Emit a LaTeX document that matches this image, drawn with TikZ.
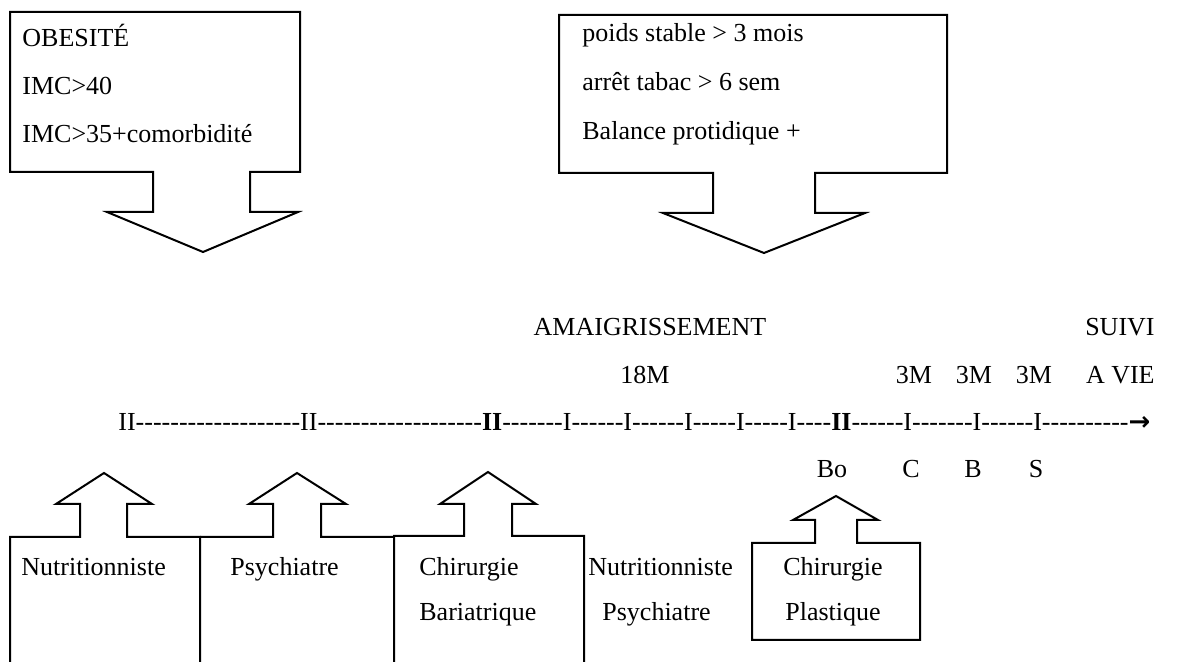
\documentclass[tikz,border=0pt]{standalone}
\usepackage{fontspec}
\setmainfont{Liberation Serif}
\newfontfamily\linefont{Liberation Serif}[Ligatures=ResetAll]
\newfontfamily\arrowfont{DejaVu Sans}
\usetikzlibrary{positioning}

\begin{document}
\begin{tikzpicture}[x=0.5pt,y=-0.5pt,
    txt/.style={inner sep=0pt,anchor=base west,font=\fontsize{13}{15}\selectfont},
    ctxt/.style={txt,anchor=base},
    rtxt/.style={txt,anchor=base east},
    outline/.style={line width=1pt,line join=miter}]
  \useasboundingbox[fill=white] (0,0) rectangle (1191,662);
  % top callouts
  \draw[outline] (153,172) -- (10,172) -- (10,12) -- (300,12) -- (300,172) -- (250,172) -- (250,212) -- (298,212) -- (203,252) -- (107,212) -- (153,212) -- cycle;
  \node[txt] (obes) at (22,47) {OBESITÉ};
  \node[txt] (imca) at (22,95) {IMC>40};
  \node[txt] (imcb) at (22,143) {IMC>35+comorbidité};
  \draw[outline] (713,173) -- (559,173) -- (559,15) -- (947,15) -- (947,173) -- (815,173) -- (815,213) -- (865,213) -- (764,253) -- (663,213) -- (713,213) -- cycle;
  \node[txt] (poids) at (582,42) {poids stable > 3 mois};
  \node[txt] (tabac) at (582,91) {arrêt tabac > 6 sem};
  \node[txt] (balance) at (582,140) {Balance protidique +};
  % time line
  \node[ctxt] (amaig) at (650,336) {AMAIGRISSEMENT};
  \node[rtxt] (suivi) at (1155,336) {SUIVI};
  \node[ctxt] (dixhuit) at (645,384) {18M};
  \node[ctxt] (troisa) at (914,384) {3M};
  \node[ctxt] (troisb) at (974,384) {3M};
  \node[ctxt] (troisc) at (1034,384) {3M};
  \node[rtxt] (avie) at (1155,384) {A VIE};
  \node[txt,font=\fontsize{13}{15}\linefont] (line) at (118,431) {II-------------------II-------------------\textbf{II}-------I------I------I-----I-----I----\textbf{II}------I-------I------I----------{\arrowfont\bfseries →}};
  \node[ctxt] (bo) at (832,478) {Bo};
  \node[ctxt] (c) at (911,478) {C};
  \node[ctxt] (b) at (973,478) {B};
  \node[ctxt] (s) at (1036,478) {S};
  % bottom boxes
  \draw[outline] (10,662) -- (10,537) -- (80,537) -- (80,504) -- (56,504) -- (104,473) -- (152,504) -- (127,504) -- (127,537) -- (200,537) -- (200,662);
  \draw[outline] (200,537) -- (273,537) -- (273,504) -- (249,504) -- (297,473) -- (346,504) -- (321,504) -- (321,537) -- (394,537);
  \draw[outline] (394,662) -- (394,536) -- (464,536) -- (464,504) -- (440,504) -- (488,472) -- (536,504) -- (512,504) -- (512,536) -- (584,536) -- (584,662);
  \draw[outline] (815,543) -- (752,543) -- (752,640) -- (920,640) -- (920,543) -- (857,543) -- (857,520) -- (878,520) -- (836,496) -- (793,520) -- (815,520) -- cycle;
  \node[txt] (nutra) at (21,576) {Nutritionniste};
  \node[txt] (psya) at (230,576) {Psychiatre};
  \node[txt] (chira) at (419,576) {Chirurgie};
  \node[txt] (baria) at (419,621) {Bariatrique};
  \node[txt] (nutrb) at (588,576) {Nutritionniste};
  \node[txt] (psyb) at (602,621) {Psychiatre};
  \node[txt] (chirb) at (783,576) {Chirurgie};
  \node[txt] (plast) at (785,621) {Plastique};
\end{tikzpicture}
\end{document}
